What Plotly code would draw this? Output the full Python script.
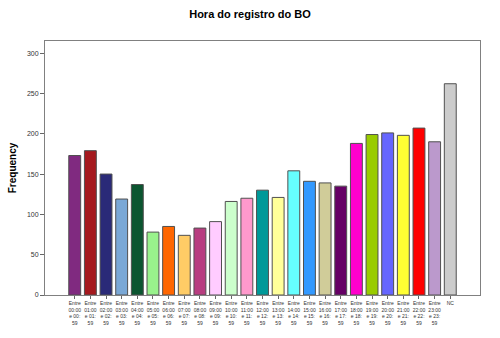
import plotly.graph_objects as go

categories = [f"Entre<br>{h:02d}:00<br>e {h:02d}:<br>59" for h in range(24)] + ["NC"]
values = [173, 179, 150, 119, 137, 78, 85, 74, 83, 91, 116, 120,
          130, 121, 154, 141, 139, 135, 188, 199, 201, 198, 207, 190, 262]
colors = ["#802a80", "#a5191e", "#2a2a78", "#7aa8d6", "#0b5530", "#99f28c",
          "#ff6600", "#ffcc66", "#b83d80", "#ffccff", "#ccffcc", "#ff99cc",
          "#009999", "#ffff99", "#66ffff", "#3399ff", "#d0cc99", "#660066",
          "#ff00cc", "#99cc00", "#6666ff", "#ffff33", "#ff0000", "#bb99cc",
          "#cccccc"]

xs = list(range(len(values)))

fig = go.Figure(go.Bar(
    x=xs, y=values,
    marker=dict(color=colors, line=dict(color="#505050", width=1)),
    width=0.76,
))

fig.update_layout(
    width=500, height=338,
    margin=dict(l=38, r=20, t=41, b=42),
    paper_bgcolor="white", plot_bgcolor="white",
    title=dict(text="<b>Hora do registro do BO</b>", x=0.5, xanchor="center",
               y=0.958, yanchor="middle",
               font=dict(family="Liberation Sans, Arial", size=11, color="#000")),
    font=dict(family="Liberation Sans, Arial", color="#333"),
    showlegend=False,
)
fig.update_xaxes(
    range=[-1.9, 25.9], tickmode="array", tickvals=xs, ticktext=categories,
    tickfont=dict(size=5, color="#333"), tickangle=0,
    ticks="outside", ticklen=3, tickcolor="#666",
    showline=True, linecolor="#808080", linewidth=1, mirror=True,
    showgrid=False, zeroline=False,
)
fig.update_yaxes(
    range=[0, 315], tickvals=[0, 50, 100, 150, 200, 250, 300],
    tickfont=dict(size=7, color="#333"),
    ticks="outside", ticklen=4, tickcolor="#666",
    showline=True, linecolor="#808080", linewidth=1, mirror=True,
    showgrid=False, zeroline=False,
    title=dict(text="<b>Frequency</b>", standoff=8,
               font=dict(size=10, color="#000")),
)

fig.write_html("out.html")
